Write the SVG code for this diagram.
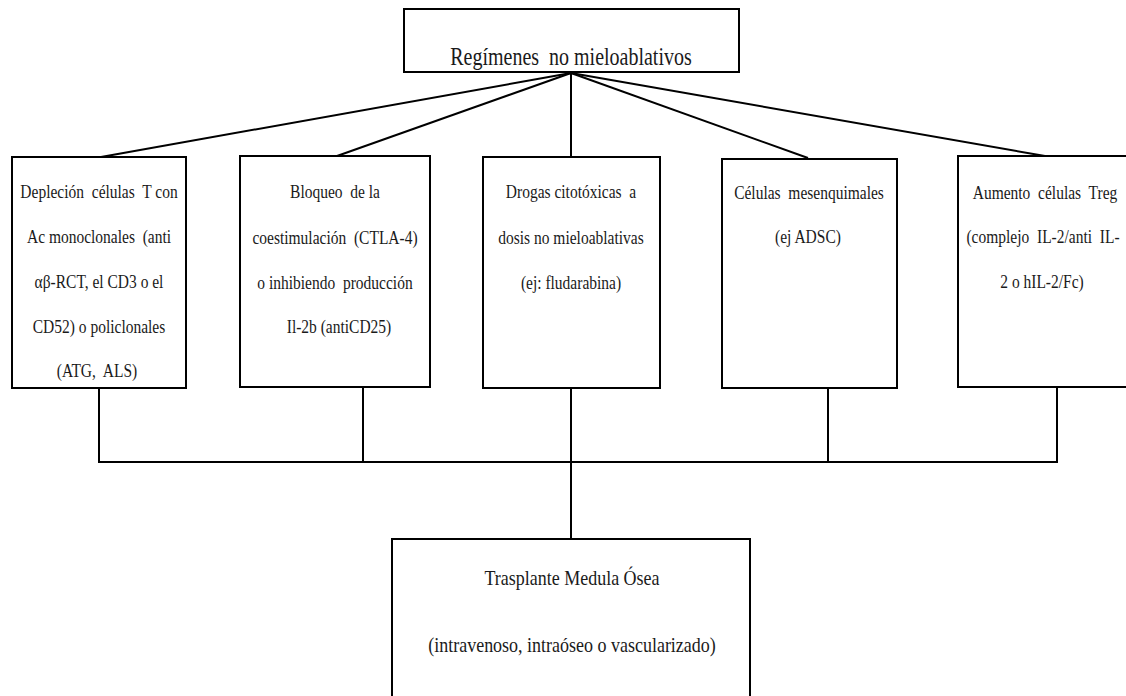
<svg xmlns="http://www.w3.org/2000/svg" width="1126" height="696" viewBox="0 0 1126 696">
<style>
.box{fill:#fff;stroke:#000;stroke-width:2}
.t{font-family:"Liberation Serif","Times New Roman",serif;font-size:15.5px;fill:#1a1a1a;text-anchor:middle;white-space:pre}
.title{font-size:20px}
.big{font-size:18px}
.c{stroke:#000;stroke-width:2;fill:none}
</style>
<rect width="1126" height="696" fill="#fff"/>
<g id="connectors">
<line class="c" x1="571" y1="73" x2="101" y2="157"/>
<line class="c" x1="571" y1="73" x2="337" y2="156"/>
<line class="c" x1="571" y1="73" x2="571" y2="157"/>
<line class="c" x1="571" y1="73" x2="808" y2="158"/>
<line class="c" x1="571" y1="73" x2="1045" y2="156"/>
<line class="c" x1="99" y1="388" x2="99" y2="462"/>
<line class="c" x1="363" y1="387" x2="363" y2="462"/>
<line class="c" x1="571" y1="388" x2="571" y2="540"/>
<line class="c" x1="828" y1="388" x2="828" y2="462"/>
<line class="c" x1="1057" y1="387" x2="1057" y2="462"/>
<line class="c" x1="98" y1="462" x2="1058" y2="462"/>
</g>
<g id="n0">
<rect class="box" x="404" y="9" width="335" height="63"/>
<text class="t title" transform="translate(571,65) scale(1,1.25)">Regímenes  no mieloablativos</text>
</g>
<g id="n1">
<rect class="box" x="12" y="157" width="174" height="231"/>
<text class="t" transform="translate(99,198) scale(1,1.2)">Depleción  células  T con</text>
<text class="t" transform="translate(99,243) scale(1,1.2)">Ac monoclonales  (anti</text>
<text class="t" transform="translate(99,288) scale(1,1.2)">αβ-RCT, el CD3 o el</text>
<text class="t" transform="translate(99,333) scale(1,1.2)">CD52) o policlonales</text>
<text class="t" transform="translate(97,377) scale(1,1.2)">(ATG,  ALS)</text>
</g>
<g id="n2">
<rect class="box" x="240" y="156" width="190" height="231"/>
<text class="t" transform="translate(335,198) scale(1,1.2)">Bloqueo  de la</text>
<text class="t" transform="translate(335,244) scale(1,1.2)">coestimulación  (CTLA-4)</text>
<text class="t" transform="translate(335,289) scale(1,1.2)">o inhibiendo  producción</text>
<text class="t" transform="translate(339,333) scale(1,1.2)">Il-2b (antiCD25)</text>
</g>
<g id="n3">
<rect class="box" x="483" y="157" width="177" height="231"/>
<text class="t" transform="translate(571,198) scale(1,1.2)">Drogas citotóxicas  a</text>
<text class="t" transform="translate(571,244) scale(1,1.2)">dosis no mieloablativas</text>
<text class="t" transform="translate(571,289) scale(1,1.2)">(ej: fludarabina)</text>
</g>
<g id="n4">
<rect class="box" x="722" y="159" width="175" height="229"/>
<text class="t" transform="translate(809,199) scale(1,1.2)">Células  mesenquimales</text>
<text class="t" transform="translate(808,243) scale(1,1.2)">(ej ADSC)</text>
</g>
<g id="n5">
<rect class="box" x="958" y="156" width="175" height="231"/>
<text class="t" transform="translate(1045,199) scale(1,1.2)">Aumento  células  Treg</text>
<text class="t" transform="translate(1043,243) scale(1,1.2)">(complejo  IL-2/anti  IL-</text>
<text class="t" transform="translate(1042,288) scale(1,1.2)">2 o hIL-2/Fc)</text>
</g>
<g id="n6">
<rect class="box" x="392" y="539" width="358" height="170"/>
<text class="t big" transform="translate(572,585) scale(1,1.15)">Trasplante Medula Ósea</text>
<text class="t big" transform="translate(572,652) scale(1,1.15)">(intravenoso, intraóseo o vascularizado)</text>
</g>
</svg>
